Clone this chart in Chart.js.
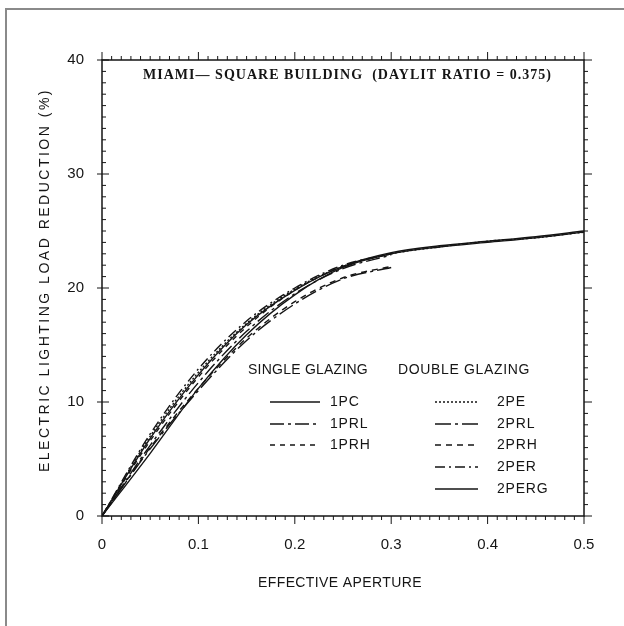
<!DOCTYPE html>
<html lang="en">
<head>
<meta charset="UTF-8">
<title>Miami - Square Building</title>
<style>
  * { margin: 0; padding: 0; box-sizing: border-box; }
  body { background: #fff; width: 624px; height: 626px; overflow: hidden; }
  #chart { display: block; }
</style>
</head>
<body>
<canvas id="chart" width="624" height="626"></canvas>
<script src="https://cdn.jsdelivr.net/npm/chart.js"></script>
<script>
// effective aperture steps shared by every curve
const aperture = [0, 0.05, 0.1, 0.15, 0.2, 0.25, 0.3, 0.35, 0.4, 0.45, 0.5];

// electric lighting load reduction (%) - single glazing
const pc1  = [0, 5.5, 11.2, 15.9, 19.4, 21.8, 23.0, 23.6, 24.0, 24.4, 24.9];
const prl1 = [0, 6.2, 11.7, 16.2, 19.5, 21.7, 22.9];
const prh1 = [0, 6.6, 12.2, 16.6, 19.8, 21.9, 23.0];

// electric lighting load reduction (%) - double glazing
const pe2   = [0, 7.0, 12.6, 16.9, 19.9, 21.9, 23.0, 23.6, 24.1, 24.4, 24.9];
const prl2  = [0, 5.9, 11.0, 15.4, 18.6, 20.8, 21.8];
const prh2  = [0, 6.0, 11.2, 15.6, 18.8, 20.9, 21.9];
const per2  = [0, 7.2, 12.9, 17.1, 20.0, 22.0, 23.0];
const perg2 = [0, 6.8, 12.4, 16.8, 19.8, 21.9, 23.1, 23.7, 24.1, 24.5, 25.0];

const xTicks = [0, 0.1, 0.2, 0.3, 0.4, 0.5];
const yTicks = [0, 10, 20, 30, 40];

const INK = '#151515';

// name, values, dash pattern, legend column
const series = [
  ['1PC',   pc1,   [],            0],
  ['1PRL',  prl1,  [14, 4, 3, 4], 0],
  ['1PRH',  prh1,  [5, 5],        0],
  ['2PE',   pe2,   [2, 2],        1],
  ['2PRL',  prl2,  [16, 4, 3, 4], 1],
  ['2PRH',  prh2,  [6, 5],        1],
  ['2PER',  per2,  [10, 4, 2, 4], 1],
  ['2PERG', perg2, [],            1]
];

const datasets = series.map(([name, vals, dash]) => ({
  label: name,
  data: vals.map((v, i) => ({ x: aperture[i], y: v })),
  borderColor: INK,
  borderWidth: 1.4,
  borderDash: dash,
  pointRadius: 0,
  fill: false,
  cubicInterpolationMode: 'monotone'
}));

// draw text stretched to a given width
function spaced(ctx, text, x, y, width) {
  ctx.letterSpacing = '0px';
  const w = ctx.measureText(text).width;
  ctx.letterSpacing = ((width - w) / text.length) + 'px';
  ctx.fillText(text, x, y);
  ctx.letterSpacing = '0px';
}

const framePlugin = {
  id: 'frame',
  afterDraw(chart) {
    const { ctx, chartArea: a, scales: { x, y } } = chart;
    ctx.save();

    // page border
    ctx.strokeStyle = '#8a8a8a';
    ctx.lineWidth = 2;
    ctx.beginPath();
    ctx.moveTo(6, 626); ctx.lineTo(6, 9); ctx.lineTo(624, 9);
    ctx.stroke();

    // plot box
    ctx.strokeStyle = INK;
    ctx.lineWidth = 1.5;
    ctx.strokeRect(a.left, a.top, a.right - a.left, a.bottom - a.top);

    // minor / major tick marks on all four sides
    ctx.lineWidth = 1;
    ctx.beginPath();
    for (let i = 0; i <= 50; i++) {
      const px = x.getPixelForValue(i / 100);
      const len = i % 10 === 0 ? 8 : 4;
      ctx.moveTo(px, a.bottom); ctx.lineTo(px, a.bottom + len);
      ctx.moveTo(px, a.top); ctx.lineTo(px, a.top - len);
    }
    for (let j = 0; j <= 40; j++) {
      const py = y.getPixelForValue(j);
      const major = j % 10 === 0;
      ctx.moveTo(a.left - (major ? 5 : 0), py); ctx.lineTo(a.left + (major ? 7 : 4), py);
      ctx.moveTo(a.right, py); ctx.lineTo(a.right + (major ? 8 : 4), py);
    }
    ctx.stroke();

    ctx.fillStyle = INK;
    ctx.textBaseline = 'middle';
    ctx.textAlign = 'left';

    // heading inside the plot
    ctx.font = 'bold 14px "Liberation Serif"';
    spaced(ctx, 'MIAMI\u2014 SQUARE BUILDING  (DAYLIT RATIO = 0.375)', 143, 75, 409);

    // axis titles
    ctx.font = '14px "Liberation Sans"';
    spaced(ctx, 'EFFECTIVE APERTURE', 258, 583, 164);
    ctx.save();
    ctx.translate(45, 280);
    ctx.rotate(-Math.PI / 2);
    spaced(ctx, 'ELECTRIC LIGHTING LOAD REDUCTION (%)', -192, 0, 384);
    ctx.restore();

    // legend
    spaced(ctx, 'SINGLE GLAZING', 248, 370, 120);
    spaced(ctx, 'DOUBLE GLAZING', 398, 370, 132);
    const rows = [402, 424, 445, 467, 489];
    const cols = [{ x0: 270, x1: 320, tx: 330 }, { x0: 435, x1: 478, tx: 497 }];
    const used = [0, 0];
    series.forEach(([name, , dash, col]) => {
      const r = rows[used[col]++];
      const c = cols[col];
      ctx.setLineDash(dash);
      ctx.lineWidth = 1.4;
      ctx.beginPath();
      ctx.moveTo(c.x0, r); ctx.lineTo(c.x1, r);
      ctx.stroke();
      ctx.setLineDash([]);
      spaced(ctx, name, c.tx, r, ctx.measureText(name).width + name.length * 0.8);
    });

    ctx.restore();
  }
};

new Chart(document.getElementById('chart'), {
  type: 'line',
  data: { datasets },
  options: {
    responsive: false,
    animation: false,
    devicePixelRatio: 1,
    layout: { padding: { left: 0, top: 60, right: 40, bottom: 0 } },
    plugins: { legend: { display: false }, tooltip: { enabled: false } },
    scales: {
      x: {
        type: 'linear',
        min: 0,
        max: 0.5,
        afterFit: s => { s.height = 110; },
        afterBuildTicks: s => { s.ticks = xTicks.map(v => ({ value: v })); },
        grid: { display: false },
        border: { display: false },
        ticks: {
          color: INK,
          padding: 12,
          font: { family: '"Liberation Sans"', size: 15 },
          callback: v => String(v)
        }
      },
      y: {
        min: 0,
        max: 40,
        afterFit: s => { s.width = 102; },
        afterBuildTicks: s => { s.ticks = yTicks.map(v => ({ value: v })); },
        grid: { display: false },
        border: { display: false },
        ticks: {
          color: INK,
          padding: 10,
          font: { family: '"Liberation Sans"', size: 15 }
        }
      }
    }
  },
  plugins: [framePlugin]
});
</script>
</body>
</html>
